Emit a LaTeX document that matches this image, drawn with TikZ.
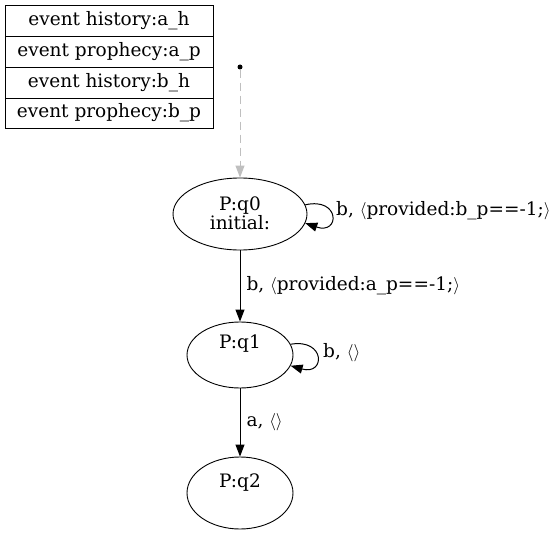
\documentclass[tikz,border=0pt]{standalone}
\usepackage{fontspec}
\setmainfont{DejaVu Serif}
\usetikzlibrary{arrows.meta,shapes.geometric}
\begin{document}
\begin{tikzpicture}[x=1pt,y=-1pt,
  every node/.style={font=\fontsize{18.5}{20}\selectfont},
  state/.style={draw,ellipse,line width=0.9pt,minimum width=106pt,minimum height=66pt,inner sep=0pt},
  edge/.style={draw,line width=1pt,-{Triangle[length=12pt,width=9pt]}},
  cell/.style={draw,line width=0.9pt,minimum width=208pt,minimum height=31pt,inner sep=0pt},
  lbl/.style={anchor=west,inner sep=0pt}]
\useasboundingbox (0,0) rectangle (560,535);
% table
\node[cell] (r1) at (109,20.5) {event history:a\_h};
\node[cell] (r2) at (109,51.5) {event prophecy:a\_p};
\node[cell] (r3) at (109,82.5) {event history:b\_h};
\node[cell,minimum height=30pt] (r4) at (109,113) {event prophecy:b\_p};
% initial point
\node[circle,fill,inner sep=0pt,minimum size=5pt] (init) at (240,67) {};
% states
\node[state,minimum width=134pt,minimum height=72pt] (q0) at (240,214) {};
\node[inner sep=0pt,anchor=base] (q0a) at (240,210) {P:q0};
\node[inner sep=0pt,anchor=base] (q0b) at (240,229.5) {initial:};
\node[state] (q1) at (240,355) {};
\node (q1t) at (240,344) {P:q1};
\node[state,minimum height=72pt] (q2) at (240,493) {};
\node (q2t) at (240,483) {P:q2};
% edges
\draw[dash pattern=on 8pt off 5pt,line width=1pt,color=black!25,-{Triangle[length=12pt,width=9pt]}] (init) -- (q0);
\draw[edge] (q0) -- node[lbl,xshift=6pt] (e1) {b, $\langle$provided:a\_p==-1;$\rangle$} (q1);
\draw[edge] (q1) -- node[lbl,xshift=6pt] (e2) {a, $\langle\rangle$} (q2);
\draw[edge] (q0.8) .. controls +(35,-8) and +(35,12) .. (q0.-8);
\node[lbl] (l0) at (336,211) {b, $\langle$provided:b\_p==-1;$\rangle$};
\draw[edge] (q1.12) .. controls +(35,-6) and +(35,10) .. (q1.-12);
\node[lbl] (l1) at (323,353) {b, $\langle\rangle$};
\end{tikzpicture}
\end{document}
